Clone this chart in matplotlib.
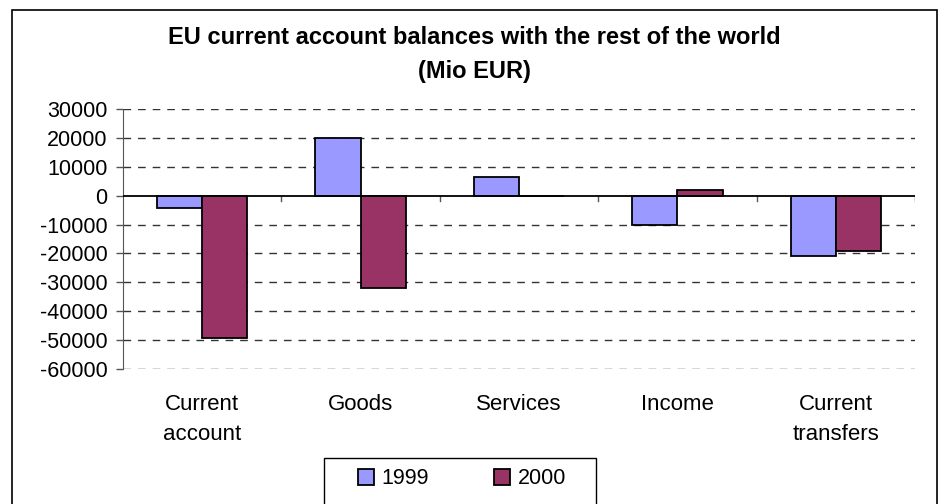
import numpy as np
import matplotlib
matplotlib.use("Agg")
import matplotlib.pyplot as plt
from matplotlib.patches import Rectangle
from matplotlib.transforms import blended_transform_factory

plt.rcParams['font.family'] = ['Liberation Sans', 'DejaVu Sans']

categories = ["Current\naccount", "Goods", "Services", "Income", "Current\ntransfers"]
v1999 = [-4400, 19800, 6400, -10100, -21000]
v2000 = [-49400, -32000, 0, 2000, -19200]
yticks = [30000, 20000, 10000, 0, -10000, -20000, -30000, -40000, -50000, -60000]

fig = plt.figure(figsize=(9.39, 5.04), dpi=100)
ax = fig.add_axes([123/939, 1-369/504, (915-123)/939, (369-109)/504])

x = np.arange(len(categories))
w = 0.285
ax.bar(x - w/2, v1999, w, color='#9999FF', edgecolor='black', linewidth=1.3, label='1999', zorder=3)
ax.bar(x + w/2, v2000, w, color='#993366', edgecolor='black', linewidth=1.3, label='2000', zorder=3)

ax.set_xlim(-0.5, len(categories) - 0.5)
ax.set_ylim(-60000, 30000)
ax.set_yticks(yticks)
ax.set_yticklabels([str(t) for t in yticks], fontsize=15.5)
ax.tick_params(axis='y', direction='out', length=5, width=1, color='#555555', pad=6)

for t in yticks:
    if t != 0:
        ax.axhline(t, color='#333333', linestyle=(0, (5.5, 5)), linewidth=1, zorder=1)

for s in ['top', 'right', 'bottom']:
    ax.spines[s].set_visible(False)
ax.spines['left'].set_color('#555555')

# zero line and small boundary ticks
ax.axhline(0, color='black', linewidth=1.3, zorder=4)
for b in np.arange(1, len(categories) + 1) - 0.5:
    ax.plot([b, b], [0, -1700], color='#555555', linewidth=1, zorder=2)

ax.set_xticks([])
tr = blended_transform_factory(ax.transData, ax.transAxes)
for i, c in enumerate(categories):
    ax.text(i, -0.095, c, transform=tr, ha='center', va='top', fontsize=16, linespacing=1.6)

fig.text(474/939, 1-38/504, "EU current account balances with the rest of the world",
         ha='center', va='center', fontsize=17, fontweight='bold')
fig.text(474/939, 1-72/504, "(Mio EUR)", ha='center', va='center', fontsize=17, fontweight='bold')

fig.patches.append(Rectangle((12/939, -0.1), (937-12)/939, 1.1 - 10/504, transform=fig.transFigure,
                             fill=False, edgecolor='black', linewidth=1.2))

# legend box
fig.patches.append(Rectangle((324/939, -0.1), (596-324)/939, 0.1 + 1-458/504, transform=fig.transFigure,
                             fill=False, edgecolor='black', linewidth=1, zorder=5))
leg = fig.legend(loc='center left', bbox_to_anchor=(358/939, 1-479/504), ncol=2, fontsize=15.5,
                 frameon=False, handlelength=0.75, handleheight=0.75,
                 columnspacing=3.0, handletextpad=0.35, borderpad=0, borderaxespad=0)

fig.savefig("out.png", dpi=100)
